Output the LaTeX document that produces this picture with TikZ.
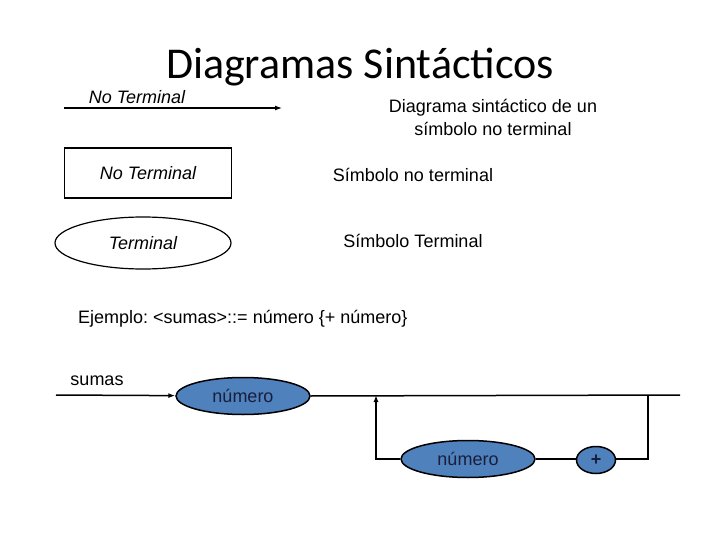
\documentclass[tikz,border=0pt]{standalone}
\usepackage{fontspec}
\setmainfont{Liberation Sans}
\newfontfamily\titlefont{Carlito}
\usepackage{xcolor}
\usetikzlibrary{arrows.meta,shapes.geometric}
\definecolor{nodeblue}{RGB}{79,129,189}
\definecolor{nodetext}{RGB}{25,30,60}
\frenchspacing

\begin{document}
\begin{tikzpicture}[x=1pt,y=-1pt,>={Latex[length=7pt,width=5pt]}]
  \tikzstyle{txt}=[inner sep=0pt,font=\fontsize{18}{23}\selectfont]
  \tikzstyle{ntbox}=[draw,line width=1.2pt,minimum width=167pt,minimum height=50pt,font=\fontsize{18}{22}\selectfont\itshape]
  \tikzstyle{tmoval}=[draw,ellipse,line width=1.2pt,inner sep=0pt,minimum width=176pt,minimum height=52pt,font=\fontsize{18}{22}\selectfont\itshape]
  \tikzstyle{numoval}=[draw,ellipse,fill=nodeblue,line width=1.5pt,inner sep=0pt,minimum width=134pt,minimum height=37pt,text=nodetext,font=\fontsize{18}{22}\selectfont]
  \tikzstyle{path}=[line width=1.5pt]
  \useasboundingbox (0,0) rectangle (720,540);
  % title
  \node[inner sep=0pt,font=\titlefont\fontsize{44}{50}\selectfont] (title) at (360,67) {Diagramas Sintácticos};
  % legend
  \node[txt,font=\fontsize{18}{22}\selectfont\itshape] (ntlabel) at (137,97) {No Terminal};
  \coordinate (arrA) at (64,108);
  \coordinate (arrB) at (282,108);
  \draw[->,line width=1.2pt] (arrA) -- (arrB);
  \node[txt,align=center] (diagdesc) at (493,117) {Diagrama sintáctico de un\\símbolo no terminal};
  \node[ntbox] (ntbox) at (148,173) {No Terminal};
  \node[txt] (ntdesc) at (413,175) {Símbolo no terminal};
  \node[tmoval] (tmoval) at (143,243) {Terminal};
  \node[txt] (tmdesc) at (413,241) {Símbolo Terminal};
  % example
  \node[txt,anchor=west] (ejemplo) at (78,319) {Ejemplo: <sumas>::= número \{+ número\}};
  \node[txt] (sumas) at (97,381) {sumas};
  \node[numoval] (num1) at (243,396) {número};
  \node[numoval] (num2) at (468,459) {número};
  \node[numoval,minimum width=39pt,minimum height=27pt,font=\fontsize{18}{20}\selectfont\bfseries] (plus) at (596,460) {+};
  \coordinate (start) at (56,395);
  \coordinate (finish) at (680,395);
  \coordinate (loopin) at (376,395);
  \coordinate (loopout) at (648,395);
  \draw[path,->] (start) -- (num1);
  \draw[path] (num1.east) -- (finish);
  \draw[path,->] (num2.west) -| (loopin);
  \draw[path] (num2.east) -- (num2.east -| plus.west);
  \draw[path] (plus.east |- num2.east) -| (loopout);
\end{tikzpicture}
\end{document}
